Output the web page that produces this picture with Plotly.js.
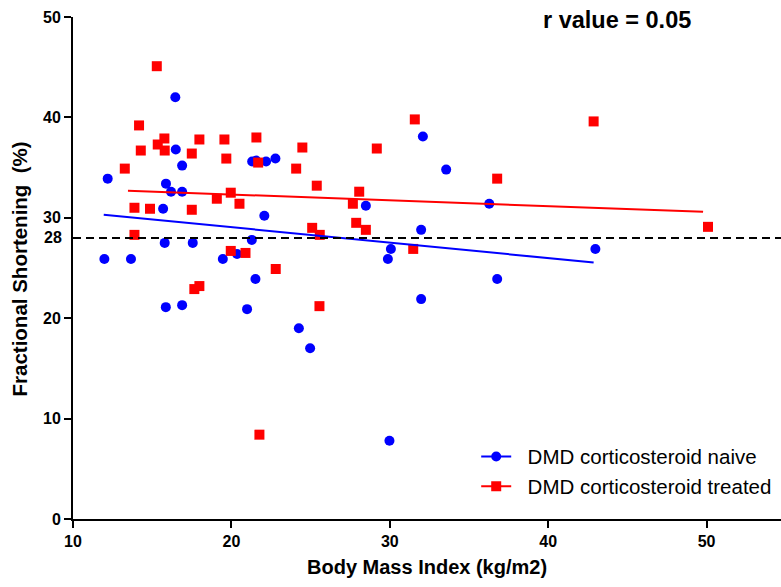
<!DOCTYPE html>
<html>
<head>
<meta charset="utf-8">
<script src="https://cdn.plot.ly/plotly-3.0.1.min.js"></script>
<style>html,body{margin:0;padding:0;background:#fff;}#chart{width:781px;height:587px;}</style>
</head>
<body>
<div id="chart"></div>
<script>
// DMD corticosteroid naive (BMI, FS%)
const naiveX = [16.46, 16.49, 16.89, 12.19, 15.87, 16.19, 16.89, 21.31, 21.56, 22.19, 22.78, 15.69, 22.08,
  11.98, 13.66, 15.79, 17.56, 19.46, 20.36, 21.29, 21.52, 15.86, 16.89, 20.99, 24.26, 24.97,
  28.49, 36.28, 31.98, 30.07, 29.88, 36.78, 31.98, 42.98, 29.98, 32.09, 33.56];
const naiveY = [42.0, 36.8, 35.2, 33.9, 33.4, 32.6, 32.6, 35.6, 35.7, 35.6, 35.9, 30.9, 30.2,
  25.9, 25.9, 27.5, 27.5, 25.9, 26.4, 27.8, 23.9, 21.1, 21.3, 20.9, 19.0, 17.0,
  31.2, 31.4, 28.8, 26.9, 25.9, 23.9, 21.9, 26.9, 7.8, 38.1, 34.8];
// DMD corticosteroid treated (BMI, FS%)
const treatedX = [15.29, 14.17, 15.77, 15.35, 14.28, 15.79, 17.98, 19.56, 21.58, 17.5, 19.68, 21.69, 24.48,
  13.27, 24.09, 25.39, 19.08, 19.96, 20.51, 13.88, 14.86, 17.5, 13.88, 25.1, 25.58,
  19.96, 20.89, 22.8, 17.66, 17.98, 25.56, 21.77,
  31.58, 42.87, 29.18, 36.78, 28.07, 27.67, 27.88, 28.49, 31.48, 50.09];
const treatedY = [45.1, 39.2, 37.9, 37.3, 36.7, 36.7, 37.8, 37.8, 38.0, 36.4, 35.9, 35.5, 37.0,
  34.9, 34.9, 33.2, 31.9, 32.5, 31.4, 31.0, 30.9, 30.8, 28.3, 29.0, 28.3,
  26.7, 26.5, 24.9, 22.9, 23.2, 21.2, 8.4,
  39.8, 39.6, 36.9, 33.9, 32.6, 31.4, 29.5, 28.8, 26.9, 29.1];
// Linear regression lines (endpoints)
const naiveFitX = [11.94, 42.87];
const naiveFitY = [30.3, 25.55];
const treatedFitX = [13.47, 49.78];
const treatedFitY = [32.7, 30.6];
// Reference threshold (labelled on the y axis, no tick mark)
const threshold = 28;
const yTicks = [0, 10, 20, 30, 40, 50];
const xTicks = [10, 20, 30, 40, 50];
const seriesNames = ['DMD corticosteroid naive', 'DMD corticosteroid treated'];
const xTitle = 'Body Mass Index (kg/m2)';
const yTitle = 'Fractional Shortening\u00a0\u00a0(%)';
const rText = 'r value = 0.05';

const BLUE = '#0000FF', RED = '#FF0000';
const FONT = '"Liberation Sans", Arial, sans-serif';
const PAD = '\u00a0\u00a0';

const traces = [
  {x: naiveX, y: naiveY, type: 'scatter', mode: 'markers', name: seriesNames[0], showlegend: false,
   marker: {color: BLUE, size: 10, symbol: 'circle'}, cliponaxis: false},
  {x: treatedX, y: treatedY, type: 'scatter', mode: 'markers', name: seriesNames[1], showlegend: false,
   marker: {color: RED, size: 10, symbol: 'square'}, cliponaxis: false},
  {x: naiveFitX, y: naiveFitY, type: 'scatter', mode: 'lines', showlegend: false,
   line: {color: BLUE, width: 2}},
  {x: treatedFitX, y: treatedFitY, type: 'scatter', mode: 'lines', showlegend: false,
   line: {color: RED, width: 2}},
  // legend entries
  {x: [null], y: [null], type: 'scatter', mode: 'lines+markers', name: PAD + seriesNames[0],
   line: {color: BLUE, width: 2}, marker: {color: BLUE, size: 10, symbol: 'circle'}},
  {x: [null], y: [null], type: 'scatter', mode: 'lines+markers', name: PAD + seriesNames[1],
   line: {color: RED, width: 2}, marker: {color: RED, size: 10, symbol: 'square'}}
];

const layout = {
  width: 781, height: 587,
  margin: {l: 73, r: 0, t: 17, b: 68},
  paper_bgcolor: '#fff', plot_bgcolor: '#fff',
  font: {family: FONT, color: '#000'},
  showlegend: true,
  legend: {x: 0.5695, y: 0.164, xanchor: 'left', yanchor: 'top', bgcolor: 'rgba(0,0,0,0)',
    font: {family: FONT, size: 20.5, color: '#000'}, itemwidth: 30, tracegroupgap: 0},
  xaxis: {
    range: [10, 54.7], tickvals: xTicks, ticktext: xTicks.map(v => '<b>' + v + '</b>'),
    showgrid: false, zeroline: false, showline: true, linecolor: '#000', linewidth: 2,
    ticks: 'outside', ticklen: 7, tickwidth: 2, tickcolor: '#000',
    tickfont: {family: FONT, size: 16, color: '#000'}
  },
  yaxis: {
    range: [0, 50], tickvals: yTicks, ticktext: yTicks.map(v => '<b>' + v + '</b>'),
    showgrid: false, zeroline: false, showline: true, linecolor: '#000', linewidth: 2,
    ticks: 'outside', ticklen: 7, tickwidth: 2, tickcolor: '#000',
    tickfont: {family: FONT, size: 16, color: '#000'}
  },
  shapes: [
    {type: 'line', xref: 'paper', yref: 'y', x0: 0, x1: 1, y0: threshold, y1: threshold,
     line: {color: '#000', width: 2, dash: '8px,5px'}}
  ],
  annotations: [
    {text: '<b>' + rText + '</b>', xref: 'paper', yref: 'paper', x: 0.768, y: 0.995, xanchor: 'center', yanchor: 'middle',
     showarrow: false, font: {family: FONT, size: 23.5, color: '#000'}},
    {text: '<b>' + threshold + '</b>', xref: 'paper', yref: 'y', x: -0.0145, y: threshold, xanchor: 'right', yanchor: 'middle',
     showarrow: false, borderpad: 0, font: {family: FONT, size: 16, color: '#000'}},
    {text: '<b>' + xTitle + '</b>', xref: 'paper', yref: 'paper', x: 0.5007, y: -0.0947, xanchor: 'center', yanchor: 'middle',
     showarrow: false, borderpad: 0, font: {family: FONT, size: 20, color: '#000'}},
    {text: '<b>' + yTitle + '</b>', xref: 'paper', yref: 'paper', x: -0.0749, y: 0.499, xanchor: 'center', yanchor: 'middle',
     textangle: -90, showarrow: false, borderpad: 0, font: {family: FONT, size: 20.5, color: '#000'}}
  ]
};

Plotly.newPlot('chart', traces, layout, {displayModeBar: false, staticPlot: true});
</script>
</body>
</html>
